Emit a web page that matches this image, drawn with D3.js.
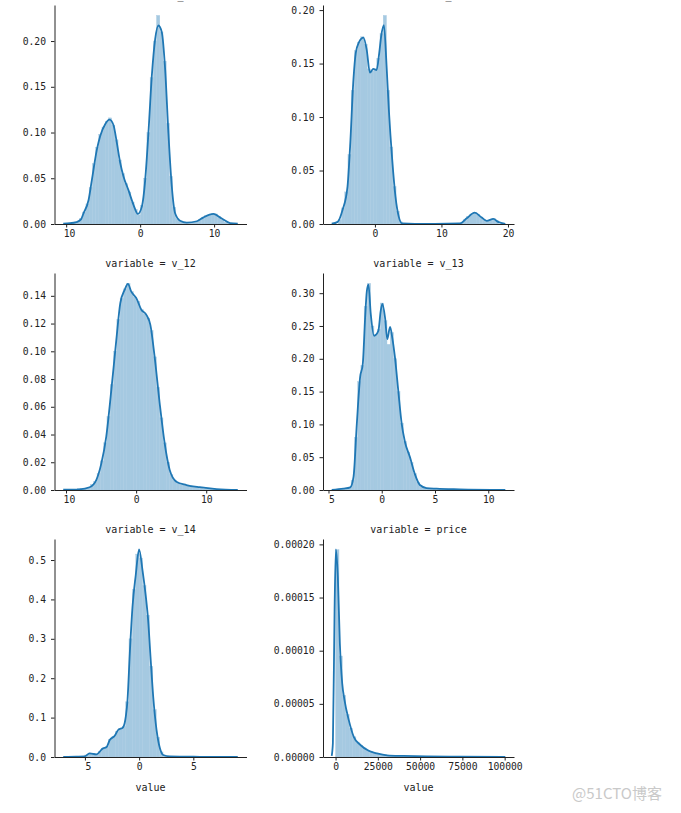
<!DOCTYPE html>
<html><head><meta charset="utf-8">
<script src="https://cdn.jsdelivr.net/npm/d3@7"></script>
<style>body{margin:0;background:#fff;} svg{display:block;}</style>
</head><body>
<svg id="chart" width="681" height="813"></svg>
<script>
// ---------- data ----------
const variables = ["v_11", "v_10", "v_12", "v_13", "v_14", "price"];

// histogram ranges (data min / max) and 50-bin densities
const histRangeV11 = [-9.5, 12.2];
const histV11 = [0.000,0.001,0.002,0.006,0.013,0.022,0.040,0.066,0.084,0.098,
  0.106,0.112,0.116,0.108,0.092,0.070,0.055,0.044,0.035,0.024,
  0.016,0.010,0.020,0.050,0.100,0.160,0.200,0.228,0.210,0.178,
  0.110,0.052,0.018,0.006,0.003,0.002,0.001,0.001,0.002,0.003,
  0.005,0.007,0.009,0.010,0.011,0.011,0.008,0.005,0.002,0.001];
const histRangeV10 = [-5.5, 18.6];
const histV10 = [0.004,0.015,0.030,0.065,0.125,0.162,0.170,0.175,0.168,0.145,
  0.143,0.145,0.155,0.178,0.195,0.125,0.072,0.035,0.012,0.002,
  0.0005,0.0003,0.0002,0.0002,0.0002,0.0002,0.0002,0.0002,0.0002,0.0002,
  0.0002,0.0002,0.0003,0.0003,0.0004,0.0005,0.0006,0.0008,0.001,0.004,
  0.007,0.009,0.011,0.009,0.006,0.004,0.003,0.004,0.005,0.003];
const histRangeV12 = [-9.8, 13.7];
const histV12 = [0,0,0,0.001,0.001,0.001,0.002,0.004,0.006,0.012,
  0.021,0.034,0.053,0.076,0.100,0.123,0.138,0.145,0.149,0.143,
  0.139,0.136,0.130,0.127,0.124,0.115,0.096,0.074,0.052,0.034,
  0.020,0.011,0.007,0.005,0.004,0.004,0.003,0.003,0.002,0.002,
  0.002,0.001,0.001,0.001,0.001,0.0005,0.0003,0.0002,0.0001,0.0001];
const histRangeV13 = [-4.1, 11.2];
const histV13 = [0.001,0.002,0.003,0.004,0.015,0.080,0.165,0.190,0.280,0.315,
  0.250,0.237,0.245,0.285,0.258,0.222,0.240,0.200,0.150,0.102,
  0.074,0.058,0.042,0.025,0.012,0.005,0.003,0.002,0.002,0.002,
  0.001,0.001,0.001,0.001,0.001,0.001,0.001,0.0008,0.0006,0.0005,
  0.0004,0.0004,0.0003,0.0003,0.0003,0.0002,0.0002,0.0002,0.0001,0.0001];
const histRangeV14 = [-6.9, 8.8];
const histV14 = [0,0.001,0.001,0.001,0.001,0.002,0.005,0.010,0.009,0.007,
  0.014,0.022,0.026,0.045,0.052,0.065,0.072,0.078,0.140,0.300,
  0.425,0.515,0.505,0.435,0.360,0.230,0.120,0.050,0.013,0.004,
  0.002,0.001,0.001,0.001,0.001,0.0008,0.0006,0.0005,0.0005,0.0004,
  0.0004,0.0003,0.0003,0.0003,0.0002,0.0002,0.0002,0.0001,0.0001,0.0001];
const histRangePrice = [11, 99999];
const histPrice = [0.000195,0.000095,0.000058,0.000040,0.000027,0.000019,0.000014,0.000011,0.0000085,0.0000065,
  0.000005,0.000004,0.0000033,0.0000027,0.0000021,0.0000017,0.0000014,0.0000012,0.000001,0.0000009,
  0.0000008,0.0000007,0.0000006,0.0000005,0.0000005,0.0000004,0.0000004,0.0000004,0.0000003,0.0000003,
  0.0000003,0.0000003,0.0000003,0.0000002,0.0000002,0.0000002,0.0000002,0.0000002,0.0000002,0.0000002,
  0.0000002,0.0000002,0.0000001,0.0000001,0.0000001,0.0000001,0.0000001,0.0000001,0.0000001,0.0000002];

// KDE curves
const kdeXV11 = [-10.4,-9.5,-8.6,-8.0,-7.66,-6.98,-6.53,-5.86,-5.41,-4.73,-4.14,-3.6,-3.15,-2.7,-2.25,-1.58,-0.9,-0.31,0.23,0.68,1.12,1.58,2.03,2.47,2.93,3.38,3.82,4.28,4.73,5.4,6.3,7.66,8.56,9.9,11.04,12.16,13.2];
const kdeYV11 = [0.0005,0.0008,0.002,0.005,0.0117,0.026,0.048,0.081,0.096,0.109,0.114,0.108,0.0886,0.067,0.052,0.037,0.021,0.011,0.019,0.048,0.0996,0.162,0.202,0.217,0.2095,0.169,0.0996,0.041,0.0117,0.0036,0.0015,0.003,0.0073,0.011,0.006,0.001,0.0003];
const kdeXV10 = [-6.5,-5.6,-4.87,-4.12,-3.73,-3.23,-2.88,-2.39,-1.73,-1.24,-0.75,-0.24,0.25,0.65,0.95,1.35,1.75,2.09,2.6,3.09,3.58,4.09,6,9,12.8,13.8,15.0,16.0,16.8,17.8,18.5,19.6];
const kdeYV10 = [0.0003,0.002,0.013,0.035,0.0726,0.135,0.16,0.17,0.1743,0.163,0.1415,0.145,0.144,0.16,0.176,0.186,0.148,0.107,0.060,0.0256,0.0069,0.0005,0.0002,0.0002,0.0005,0.0053,0.0106,0.0063,0.003,0.0047,0.002,0.0002];
const kdeXV12 = [-10.4,-8.07,-6.64,-5.69,-4.97,-4.26,-3.54,-2.83,-2.26,-1.64,-1.17,-0.69,0.03,0.74,1.46,2.03,2.64,3.36,4.07,4.79,5.74,7.17,9.07,11.46,14.5];
const kdeYV12 = [0.0002,0.0005,0.002,0.0072,0.019,0.0385,0.072,0.108,0.1347,0.1443,0.1486,0.143,0.1383,0.13,0.1263,0.119,0.096,0.0625,0.0337,0.0144,0.006,0.0036,0.002,0.0007,0.0001];
const kdeXV13 = [-4.7,-3.59,-2.96,-2.65,-2.34,-2.03,-1.78,-1.56,-1.4,-1.25,-1.03,-0.72,-0.32,-0.1,0.06,0.31,0.52,0.78,0.99,1.24,1.55,1.87,2.18,2.64,3.11,3.58,4.2,5.14,7.3,11.6];
const kdeYV13 = [0.0002,0.002,0.004,0.02,0.101,0.172,0.192,0.2626,0.303,0.313,0.268,0.235,0.2424,0.2727,0.2838,0.2626,0.23,0.2485,0.232,0.202,0.1515,0.101,0.0732,0.0505,0.0242,0.0076,0.003,0.002,0.001,0.0001];
const kdeXV14 = [-7.0,-5.8,-5.03,-4.56,-3.94,-3.33,-3.02,-2.71,-2.25,-1.94,-1.48,-1.23,-1.07,-0.86,-0.61,-0.31,0,0.31,0.62,0.83,1.05,1.3,1.61,1.92,2.22,2.84,5.62,9.1];
const kdeYV14 = [0.0002,0.001,0.0017,0.0093,0.0068,0.022,0.0245,0.043,0.054,0.0685,0.0754,0.1023,0.1447,0.263,0.3815,0.462,0.527,0.4746,0.407,0.348,0.2546,0.153,0.0685,0.022,0.005,0.0013,0.0005,0.0001];
const kdeXPrice = [-2300,-1590,-590,180,1350,2530,3940,5290,7820,10760,14700,19600,24500,30400,40200,53900,73500,100400];
const kdeYPrice = [0.000001,0.0000129,0.000138,0.0001953,0.000169,0.000107,0.000069,0.0000535,0.0000347,0.000019,0.0000113,0.0000059,0.0000034,0.0000016,0.000001,0.0000005,0.0000003,0.0000001];

// ticks
const xTicksV11 = [-10, 0, 10];          const xTickLabelsV11 = ["10", "0", "10"];
const xTicksV10 = [0, 10, 20];           const xTickLabelsV10 = ["0", "10", "20"];
const xTicksV12 = [-10, 0, 10];          const xTickLabelsV12 = ["10", "0", "10"];
const xTicksV13 = [-5, 0, 5, 10];        const xTickLabelsV13 = ["5", "0", "5", "10"];
const xTicksV14 = [-5, 0, 5];            const xTickLabelsV14 = ["5", "0", "5"];
const xTicksPrice = [0, 25000, 50000, 75000, 100000];
const xTickLabelsPrice = ["0", "25000", "50000", "75000", "100000"];

const yTicksV11 = [0, 0.05, 0.10, 0.15, 0.20];  const yTickLabelsV11 = ["0.00","0.05","0.10","0.15","0.20"];
const yTicksV10 = [0, 0.05, 0.10, 0.15, 0.20];  const yTickLabelsV10 = ["0.00","0.05","0.10","0.15","0.20"];
const yTicksV12 = [0, 0.02, 0.04, 0.06, 0.08, 0.10, 0.12, 0.14];
const yTickLabelsV12 = ["0.00","0.02","0.04","0.06","0.08","0.10","0.12","0.14"];
const yTicksV13 = [0, 0.05, 0.10, 0.15, 0.20, 0.25, 0.30];
const yTickLabelsV13 = ["0.00","0.05","0.10","0.15","0.20","0.25","0.30"];
const yTicksV14 = [0, 0.1, 0.2, 0.3, 0.4, 0.5];
const yTickLabelsV14 = ["0.0","0.1","0.2","0.3","0.4","0.5"];
const yTicksPrice = [0, 0.00005, 0.0001, 0.00015, 0.0002];
const yTickLabelsPrice = ["0.00000","0.00005","0.00010","0.00015","0.00020"];

const xLabel = "value";
const watermark = "@51CTO博客";

// ---------- build ----------
const panels = [
  {hist: histV11, range: histRangeV11, kx: kdeXV11, ky: kdeYV11, xt: xTicksV11, xl: xTickLabelsV11, yt: yTicksV11, yl: yTickLabelsV11},
  {hist: histV10, range: histRangeV10, kx: kdeXV10, ky: kdeYV10, xt: xTicksV10, xl: xTickLabelsV10, yt: yTicksV10, yl: yTickLabelsV10},
  {hist: histV12, range: histRangeV12, kx: kdeXV12, ky: kdeYV12, xt: xTicksV12, xl: xTickLabelsV12, yt: yTicksV12, yl: yTickLabelsV12},
  {hist: histV13, range: histRangeV13, kx: kdeXV13, ky: kdeYV13, xt: xTicksV13, xl: xTickLabelsV13, yt: yTicksV13, yl: yTickLabelsV13},
  {hist: histV14, range: histRangeV14, kx: kdeXV14, ky: kdeYV14, xt: xTicksV14, xl: xTickLabelsV14, yt: yTicksV14, yl: yTickLabelsV14},
  {hist: histPrice, range: histRangePrice, kx: kdeXPrice, ky: kdeYPrice, xt: xTicksPrice, xl: xTickLabelsPrice, yt: yTicksPrice, yl: yTickLabelsPrice}
];

const svg = d3.select("#chart");
const cols = [{x0: 54.5, x1: 246.5}, {x0: 323, x1: 514}];
const rows = [{y0: 5, y1: 224}, {y0: 273, y1: 490}, {y0: 539, y1: 757}];
const COLOR = "#1f77b4";
const BAR = "#a5c9e1";
const TXT = "#222";
const MONO = "'DejaVu Sans Mono', 'Liberation Mono', monospace";

panels.forEach((p, i) => {
  const c = cols[i % 2], r = rows[Math.floor(i / 2)];
  const kmin = d3.min(p.kx), kmax = d3.max(p.kx);
  const pad = (kmax - kmin) * 0.05;
  const x = d3.scaleLinear().domain([kmin - pad, kmax + pad]).range([c.x0, c.x1]);
  const ymax = Math.max(d3.max(p.hist), d3.max(p.ky)) * 1.05;
  const y = d3.scaleLinear().domain([0, ymax]).range([r.y1, r.y0]);
  const g = svg.append("g");

  const n = p.hist.length;
  const binW = (p.range[1] - p.range[0]) / n;
  g.append("g").selectAll("rect").data(p.hist).join("rect")
    .attr("x", (d, j) => x(p.range[0] + j * binW))
    .attr("width", (d, j) => x(p.range[0] + (j + 1) * binW) - x(p.range[0] + j * binW))
    .attr("y", d => y(d))
    .attr("height", d => y(0) - y(d))
    .attr("fill", BAR).attr("stroke", BAR).attr("stroke-width", 0.4);

  const pts = p.kx.map((v, j) => [v, p.ky[j]]);
  g.append("path").datum(pts)
    .attr("d", d3.line().x(d => x(d[0])).y(d => y(d[1])).curve(d3.curveMonotoneX))
    .attr("fill", "none").attr("stroke", COLOR).attr("stroke-width", 1.8)
    .attr("stroke-linejoin", "round");

  const xa = g.append("g").attr("transform", `translate(0,${r.y1})`)
    .call(d3.axisBottom(x).tickValues(p.xt).tickFormat((d, j) => p.xl[j])
      .tickSize(3.5).tickSizeOuter(0).tickPadding(3));
  xa.selectAll("text").attr("dx", d => d < 0 ? 2.9 : 0);

  const ya = g.append("g").attr("transform", `translate(${c.x0},0)`)
    .call(d3.axisLeft(y).tickValues(p.yt).tickFormat((d, j) => p.yl[j])
      .tickSize(3.5).tickSizeOuter(0).tickPadding(5));

  [xa, ya].forEach(a => {
    a.attr("font-family", MONO).attr("font-size", 9.7);
    a.selectAll("path, line").attr("stroke", TXT).attr("stroke-width", 1);
    a.selectAll("text").attr("fill", TXT);
  });

  g.append("text")
    .attr("x", (c.x0 + c.x1) / 2).attr("y", r.y0 - 6)
    .attr("text-anchor", "middle")
    .attr("font-family", MONO).attr("font-size", 10).attr("fill", TXT)
    .text("variable = " + variables[i]);

  if (Math.floor(i / 2) === 2) {
    g.append("text")
      .attr("x", (c.x0 + c.x1) / 2).attr("y", r.y1 + 34)
      .attr("text-anchor", "middle")
      .attr("font-family", MONO).attr("font-size", 10).attr("fill", TXT)
      .text(xLabel);
  }
});

svg.append("text")
  .attr("x", 617).attr("y", 799)
  .attr("text-anchor", "middle")
  .attr("font-family", "'Noto Sans CJK SC', sans-serif")
  .attr("font-size", 15).attr("fill", "#c9c9c9")
  .text(watermark);
</script>
</body></html>
